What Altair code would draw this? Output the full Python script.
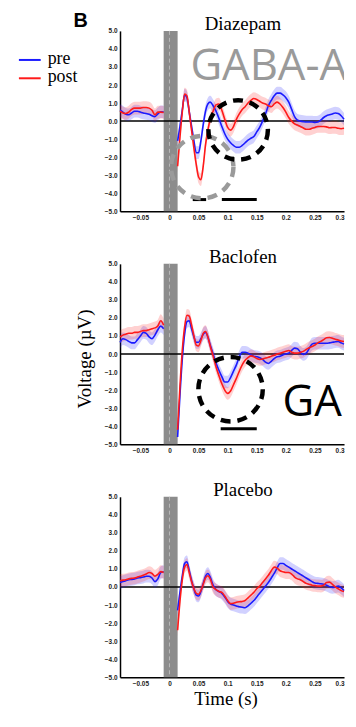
import altair as alt
import pandas as pd

# ---------------- data ----------------
PANELS = ["Diazepam", "Baclofen", "Placebo"]
COND_LABELS = ["pre", "post"]
COND_COLORS = {"pre": "#1a1aff", "post": "#ff1a1a"}
BAND_HALF = 0.35

PRE_T = [-0.085, -0.08, -0.075, -0.07, -0.065, -0.06, -0.055, -0.05, -0.045,
         -0.04, -0.035, -0.03, -0.025, -0.02, -0.015, -0.01]
POST_T = [0.014, 0.018, 0.022, 0.026, 0.030, 0.034, 0.038, 0.042, 0.046, 0.050,
          0.054, 0.058, 0.062, 0.066, 0.070, 0.075, 0.080, 0.085, 0.090, 0.095,
          0.100, 0.105, 0.110, 0.115, 0.120, 0.125, 0.130, 0.135, 0.140, 0.145,
          0.150, 0.155, 0.160, 0.165, 0.170, 0.175, 0.180, 0.185, 0.190, 0.195,
          0.200, 0.205, 0.210, 0.215, 0.220, 0.225, 0.230, 0.235, 0.240, 0.245,
          0.250, 0.255, 0.260, 0.265, 0.270, 0.275, 0.280, 0.285, 0.290, 0.295,
          0.300]

# Diazepam
DIAZ_PRE_BASE = [0.6, 0.5, 0.38, 0.35, 0.45, 0.55, 0.55, 0.5, 0.45, 0.42, 0.38,
                 0.3, 0.25, 0.4, 0.52, 0.5]
DIAZ_POST_BASE = [0.55, 0.45, 0.42, 0.5, 0.65, 0.72, 0.72, 0.72, 0.75, 0.75,
                  0.72, 0.6, 0.35, 0.5, 0.5, 0.48]
DIAZ_PRE_RESP = [-1.1, -0.3, 0.6, 1.45, 1.3, 0.5, -0.3, -1.1, -1.75, -1.75,
                 -1.1, -0.2, 0.55, 0.95, 1.05, 0.85, 0.55, 0.15, -0.3, -0.7,
                 -1.0, -1.2, -1.35, -1.45, -1.45, -1.35, -1.2, -1.05, -0.95, -0.85,
                 -0.6, -0.35, 0.0, 0.4, 0.85, 1.15, 1.4, 1.55, 1.55, 1.45,
                 1.3, 1.05, 0.65, 0.25, 0.05, 0.0, -0.03, -0.05, -0.05, -0.05,
                 -0.07, -0.05, 0.05, 0.2, 0.3, 0.35, 0.4, 0.45, 0.42, 0.3,
                 0.1]
DIAZ_POST_RESP = [-2.5, -0.9, 0.5, 1.5, 1.4, 0.5, -0.5, -1.5, -2.4, -3.1,
                  -3.25, -2.5, -1.3, -0.5, 0.1, 0.55, 0.9, 0.95, 0.6, 0.1,
                  -0.35, -0.5, -0.3, 0.1, 0.4, 0.65, 0.8, 1.0, 1.15, 1.25,
                  1.2, 1.1, 1.0, 0.95, 0.85, 0.8, 0.95, 1.05, 0.95, 0.75,
                  0.5, 0.2, 0.0, -0.15, -0.22, -0.3, -0.38, -0.45, -0.45, -0.4,
                  -0.35, -0.3, -0.3, -0.3, -0.32, -0.37, -0.35, -0.35, -0.4, -0.42,
                  -0.4]

# Baclofen
BACL_PRE_BASE = [0.65, 0.85, 0.8, 0.7, 0.62, 0.62, 0.8, 1.0, 1.2, 1.15, 0.95,
                 0.85, 1.05, 1.35, 1.55, 1.4]
BACL_POST_BASE = [0.95, 1.05, 1.1, 1.15, 1.15, 1.2, 1.2, 1.25, 1.3, 1.3, 1.35,
                  1.4, 1.45, 1.55, 1.85, 1.6]
BACL_PRE_RESP = [-4.6, -2.3, -0.3, 1.1, 1.8, 1.85, 1.4, 0.95, 0.65, 0.65,
                 0.85, 1.1, 1.2, 0.95, 0.5, 0.0, -0.5, -0.9, -1.25, -1.55,
                 -1.55, -1.3, -0.95, -0.6, -0.15, 0.1, 0.1, 0.05, -0.05, -0.12,
                 -0.15, -0.2, -0.3, -0.45, -0.52, -0.4, -0.25, -0.15, -0.12, -0.05,
                 0.0, 0.05, 0.2, 0.33, 0.3, 0.1, -0.02, 0.05, 0.3, 0.55,
                 0.6, 0.6, 0.6, 0.6, 0.6, 0.62, 0.65, 0.68, 0.7, 0.62,
                 0.55]
BACL_POST_RESP = [-4.2, -1.8, 0.2, 1.5, 2.15, 2.1, 1.6, 1.0, 0.5, 0.45,
                  0.75, 1.15, 1.25, 0.95, 0.45, -0.1, -0.7, -1.2, -1.65, -2.0,
                  -2.18, -2.05, -1.7, -1.35, -0.95, -0.6, -0.35, -0.2, -0.1, -0.15,
                  -0.25, -0.3, -0.28, -0.22, -0.18, -0.12, -0.07, 0.0, 0.05, 0.1,
                  0.15, 0.2, 0.1, 0.05, 0.05, 0.1, 0.15, 0.25, 0.35, 0.42,
                  0.5, 0.62, 0.7, 0.8, 0.9, 0.92, 0.88, 0.82, 0.78, 0.72,
                  0.7]

# Placebo
PLAC_PRE_BASE = [0.25, 0.3, 0.35, 0.4, 0.42, 0.45, 0.5, 0.52, 0.55, 0.6, 0.6,
                 0.5, 0.3, 0.45, 0.8, 0.85]
PLAC_POST_BASE = [0.35, 0.38, 0.4, 0.45, 0.48, 0.5, 0.55, 0.6, 0.65, 0.72, 0.8,
                  0.75, 0.6, 0.7, 0.85, 0.8]
PLAC_PRE_RESP = [-1.3, -0.3, 0.6, 1.3, 1.4, 0.9, 0.35, -0.1, -0.45, -0.5,
                 -0.25, 0.2, 0.6, 0.75, 0.55, 0.1, -0.15, -0.25, -0.35, -0.55,
                 -0.8, -0.95, -1.0, -1.05, -1.1, -1.12, -1.15, -1.05, -0.9, -0.75,
                 -0.55, -0.35, -0.15, 0.05, 0.25, 0.5, 0.75, 1.05, 1.3, 1.3,
                 1.2, 1.1, 1.0, 0.9, 0.8, 0.7, 0.6, 0.5, 0.4, 0.3,
                 0.22, 0.2, 0.18, 0.15, 0.1, 0.02, -0.03, 0.0, 0.05, -0.05,
                 -0.2]
PLAC_POST_RESP = [-2.4, -0.8, 0.4, 1.1, 1.25, 0.8, 0.3, -0.1, -0.35, -0.4,
                  -0.2, 0.15, 0.5, 0.62, 0.45, 0.0, -0.15, -0.25, -0.3, -0.5,
                  -0.75, -0.92, -0.9, -0.85, -0.82, -0.8, -0.75, -0.6, -0.45, -0.3,
                  -0.1, 0.05, 0.25, 0.45, 0.65, 0.9, 1.1, 1.05, 0.9, 0.85,
                  0.8, 0.8, 0.72, 0.55, 0.45, 0.4, 0.3, 0.2, 0.15, 0.1,
                  0.08, 0.06, 0.05, 0.1, 0.25, 0.27, 0.15, 0.0, -0.1, -0.2,
                  -0.25]

SERIES = {
    "Diazepam": {"pre": (DIAZ_PRE_BASE, DIAZ_PRE_RESP), "post": (DIAZ_POST_BASE, DIAZ_POST_RESP)},
    "Baclofen": {"pre": (BACL_PRE_BASE, BACL_PRE_RESP), "post": (BACL_POST_BASE, BACL_POST_RESP)},
    "Placebo": {"pre": (PLAC_PRE_BASE, PLAC_PRE_RESP), "post": (PLAC_POST_BASE, PLAC_POST_RESP)},
}

X_TICKS = [-0.05, 0, 0.05, 0.1, 0.15, 0.2, 0.25, 0.3]
Y_TICKS = [-5, -4, -3, -2, -1, 0, 1, 2, 3, 4, 5]
X_DOMAIN = [-0.085, 0.3]
Y_DOMAIN = [-5, 5]
PULSE = [-0.01, 0.014]

SIG_BARS = {
    "Diazepam": [(0.04, 0.063, -4.35), (0.09, 0.15, -4.35)],
    "Baclofen": [(0.088, 0.15, -4.14)],
    "Placebo": [],
}
# dashed circles: (time, voltage, colour, diameter px)
CIRCLES = {
    "Diazepam": [(0.0563, -2.55, "#9a9a9a", 63), (0.118, -0.49, "#000000", 60)],
    "Baclofen": [(0.105, -1.95, "#000000", 65)],
    "Placebo": [],
}
GABA_TEXT = {"Diazepam": ("GABA-A", "#9a9a9a"), "Baclofen": ("GABA-B", "#000000")}
Y_TITLE = "Voltage (µV)"
X_TITLE = "Time (s)"
PANEL_LETTER = "B"

W, H = 226, 182
XS = alt.Scale(domain=X_DOMAIN, nice=False, zero=False)
YS = alt.Scale(domain=Y_DOMAIN, nice=False, zero=False)
XA = alt.Axis(values=X_TICKS, format="~g", title=None, labelFlush=True)
YA = alt.Axis(values=Y_TICKS, format=".1f", title=None)


def X(field):
    return alt.X(field, scale=XS, axis=XA)


def Y(field):
    return alt.Y(field, scale=YS, axis=YA)


def text_layer(txt, x, y, size, font, color="black", weight="normal", align="left",
               baseline="alphabetic", angle=0, clip=False):
    return alt.Chart(pd.DataFrame({"label": [txt]})).mark_text(
        font=font, fontSize=size, color=color, fontWeight=weight, align=align,
        baseline=baseline, angle=angle, clip=clip
    ).encode(text="label:N", x=alt.value(x), y=alt.value(y))


def panel(name, idx):
    layers = []
    # stimulation pulse bar
    layers.append(alt.Chart(pd.DataFrame({"a": [PULSE[0]], "b": [PULSE[1]],
                                          "lo": [Y_DOMAIN[0]], "hi": [Y_DOMAIN[1]]}))
                  .mark_rect(color="#8c8c8c")
                  .encode(x=X("a:Q"), x2="b:Q", y=Y("lo:Q"), y2="hi:Q"))
    layers.append(alt.Chart(pd.DataFrame({"a": [0.0]}))
                  .mark_rule(color="#b8b8b8", strokeDash=[4, 3], strokeWidth=1)
                  .encode(x=X("a:Q"), y=alt.value(0), y2=alt.value(H)))
    layers.append(alt.Chart(pd.DataFrame({"lo": [0.0]}))
                  .mark_rule(color="black", strokeWidth=1.5)
                  .encode(y=Y("lo:Q")))
    dfs = {}
    for cond in COND_LABELS:
        base, resp = SERIES[name][cond]
        rows = []
        for t, v in zip(PRE_T, base):
            rows.append({"a": t, "v": v, "seg": "base"})
        for t, v in zip(POST_T, resp):
            rows.append({"a": t, "v": v, "seg": "resp"})
        df = pd.DataFrame(rows)
        df["lo"] = df["v"] - BAND_HALF
        df["hi"] = df["v"] + BAND_HALF
        dfs[cond] = df
    for cond in COND_LABELS:
        layers.append(alt.Chart(dfs[cond]).mark_area(color=COND_COLORS[cond], opacity=0.2,
                                                     interpolate="monotone")
                      .encode(x=X("a:Q"), y=Y("lo:Q"), y2="hi:Q", detail="seg:N"))
    for cond in COND_LABELS:
        layers.append(alt.Chart(dfs[cond]).mark_line(color=COND_COLORS[cond], strokeWidth=1.6,
                                                     interpolate="monotone")
                      .encode(x=X("a:Q"), y=Y("v:Q"), detail="seg:N"))
    if SIG_BARS[name]:
        sb = pd.DataFrame(SIG_BARS[name], columns=["a", "b", "lo"])
        layers.append(alt.Chart(sb).mark_rule(color="black", strokeWidth=3)
                      .encode(x=X("a:Q"), x2="b:Q", y=Y("lo:Q")))
    for (t, v, col, d) in CIRCLES[name]:
        layers.append(alt.Chart(pd.DataFrame({"a": [t], "lo": [v]}))
                      .mark_point(shape="circle", filled=False, color=col, strokeWidth=4.5,
                                  strokeDash=[10, 7], size=d * d, opacity=1)
                      .encode(x=X("a:Q"), y=Y("lo:Q")))
    if name in GABA_TEXT:
        txt, col = GABA_TEXT[name]
        if idx == 0:
            layers.append(text_layer(txt, 71, 50, 44, "Open Sans", color=col, clip=True))
        else:
            layers.append(text_layer(txt, 164, 153, 44, "Open Sans", color=col, clip=True))
    # panel title
    layers.append(text_layer(name, 124, -1, 19, "Liberation Serif", align="center"))
    if idx == 0:
        layers.append(text_layer(PANEL_LETTER, -47, -4, 20, "Liberation Sans", weight="bold"))
        for i, cond in enumerate(COND_LABELS):
            yy = 29.3 + i * 18.5
            layers.append(alt.Chart(pd.DataFrame({"c": [cond]}))
                          .mark_rule(color=COND_COLORS[cond], strokeWidth=2)
                          .encode(x=alt.value(-102), x2=alt.value(-80), y=alt.value(yy)))
            layers.append(text_layer(cond, -73, yy + 4, 18, "Liberation Serif"))
    if idx == 1:
        layers.append(text_layer(Y_TITLE, -35, 96, 19, "Liberation Serif", align="center",
                                 baseline="middle", angle=270))
    if idx == 2:
        layers.append(text_layer(X_TITLE, 107, H + 28, 19, "Liberation Serif", align="center"))
    return alt.layer(*layers).properties(width=W, height=H)


chart = alt.VConcatChart(
    vconcat=[panel(n, i) for i, n in enumerate(PANELS)],
    spacing=53,
    bounds="flush",
    padding={"left": 10, "top": 0, "right": 0, "bottom": 0},
).configure_view(stroke=None).configure_axis(
    labelFont="Liberation Sans", labelFontWeight="bold", labelFontSize=6.5,
    labelColor="#222222", domainColor="black", domainWidth=1.5, ticks=False,
    labelPadding=3, grid=False,
)

chart.save("out.html", embed_options={"renderer": "svg", "actions": False})
